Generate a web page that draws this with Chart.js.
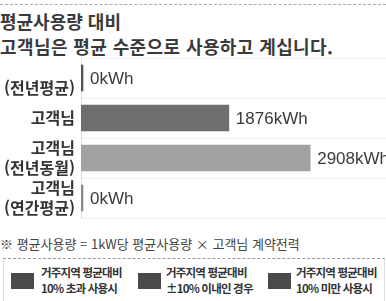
<!DOCTYPE html>
<html lang="ko">
<head>
<meta charset="utf-8">
<script src="https://cdn.jsdelivr.net/npm/chart.js@4.4.1/dist/chart.umd.min.js"></script>
<style>
  html, body { margin: 0; padding: 0; background: #fff; }
  body { width: 386px; height: 301px; position: relative; overflow: hidden;
         font-family: "Noto Sans CJK KR", "Noto Sans", sans-serif; color: #2b2b2b; }
  .topline { position: absolute; left: 0; top: 4px; width: 386px; border-top: 1px dashed #aaa; }
  .title { position: absolute; left: 0; font-size: 18px; font-weight: 700; white-space: nowrap; line-height: 22px; color: #3a3a3a; }
  #t1 { top: 10px; }
  #t2 { top: 35px; letter-spacing: 0.4px; }
  #chartWrap { position: absolute; left: 0; top: 55px; width: 386px; height: 170px; }
  .note { position: absolute; left: 0; top: 235px; font-size: 13px; color: #444; white-space: nowrap; line-height: 18px; }
  .legend { position: absolute; left: 3px; top: 258px; width: 380px; height: 50px;
            border-top: 1px dashed #999; border-left: 1px solid #ddd; border-right: 1px solid #ddd; }
  .item { position: absolute; top: 0; }
  .sw { position: absolute; width: 23px; height: 16px; background: #4a4a4a; top: 14px; }
  .lt { position: absolute; top: 5px; font-size: 11.5px; font-weight: 700; line-height: 16px;
        letter-spacing: -0.8px; white-space: nowrap; color: #333; }
</style>
</head>
<body>
<div class="topline"></div>
<div class="title" id="t1">평균사용량 대비</div>
<div class="title" id="t2">고객님은 평균 수준으로 사용하고 계십니다.</div>
<div id="chartWrap"><canvas id="usage-chart" width="386" height="170"></canvas></div>
<div class="note">※ 평균사용량 = 1kW당 평균사용량 × 고객님 계약전력</div>
<div class="legend">
  <div class="item" style="left:7px"><div class="sw" style="left:0"></div><div class="lt" style="left:30px">거주지역 평균대비<br>10% 초과 사용시</div></div>
  <div class="item" style="left:134px"><div class="sw" style="left:0"></div><div class="lt" style="left:28px">거주지역 평균대비<br>±10% 이내인 경우</div></div>
  <div class="item" style="left:264px"><div class="sw" style="left:0"></div><div class="lt" style="left:28px">거주지역 평균대비<br>10% 미만 사용시</div></div>
</div>
<script>
// chart data
const categories = [['', '(전년평균)'], '고객님', ['고객님', '(전년동월)'], ['고객님', '(연간평균)']];
const usage = [0, 1876, 2908, 0];
const unit = 'kWh';
const axisMax = 3870;

// draw "1876kWh" etc. at the end of each bar
const valueLabels = {
    id: 'valueLabels',
    afterDatasetsDraw(chart) {
        const ctx = chart.ctx;
        const meta = chart.getDatasetMeta(0);
        ctx.save();
        ctx.font = '17px "Liberation Sans", Arial, sans-serif';
        ctx.fillStyle = '#3a3a3a';
        ctx.textBaseline = 'middle';
        ctx.textAlign = 'left';
        meta.data.forEach(function(bar, i) {
            ctx.fillText(usage[i] + unit, bar.x + 7, bar.y + 1);
        });
        ctx.restore();
    }
};

new Chart(document.getElementById('usage-chart'), {
    type: 'bar',
    data: {
        labels: categories,
        datasets: [{
            data: usage,
            backgroundColor: ['#555', '#6e6e6e', '#a2a2a2', '#8a8a8a'],
            borderWidth: 0,
            barThickness: 26,
            minBarLength: 2
        }]
    },
    options: {
        indexAxis: 'y',
        responsive: false,
        animation: false,
        layout: { padding: { top: 3, bottom: 7, left: 0, right: 0 } },
        plugins: {
            legend: { display: false },
            tooltip: { enabled: false }
        },
        scales: {
            x: {
                display: false,
                min: 0,
                max: axisMax
            },
            y: {
                afterFit: function(scale) {
                    scale.width = 81;
                    scale.paddingTop = 0;
                    scale.paddingBottom = 0;
                },
                grid: { color: '#f1f1f1', drawTicks: false },
                border: { color: '#ddd' },
                ticks: {
                    color: '#333',
                    padding: 6,
                    autoSkip: false,
                    font: { family: '"Noto Sans CJK KR", sans-serif', size: 16, weight: 'bold', lineHeight: 1.25 }
                }
            }
        }
    },
    plugins: [valueLabels]
});
</script>
</body>
</html>
